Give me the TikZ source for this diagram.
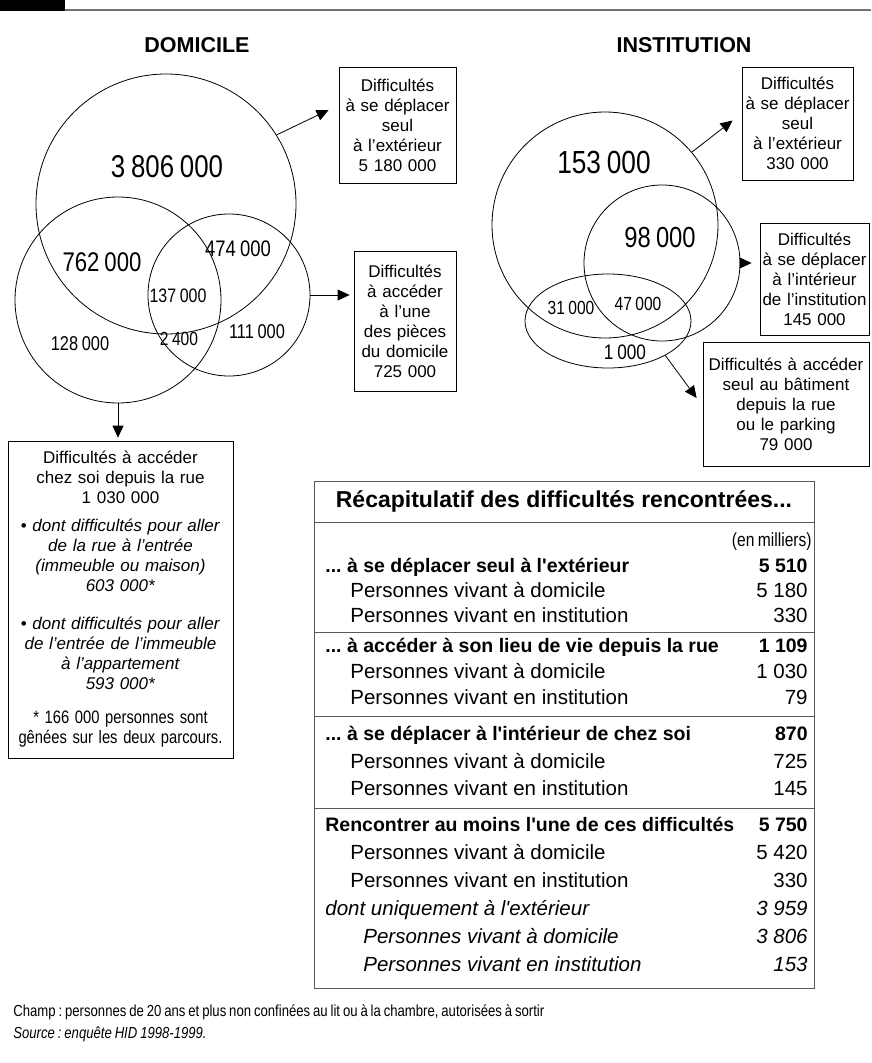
\documentclass[tikz,border=0pt]{standalone}
\usepackage{fontspec}
\setmainfont{Liberation Sans}
\newfontfamily\narrowfont{Liberation Sans}[FakeStretch=0.82, WordSpace=0.8]
\usetikzlibrary{
	arrows.meta,									% pointes de fleches
	calc,											% calcul de coordonnees
	positioning,									% placement relatif
	shapes.geometric,								% ellipse
}
\newcommand{\sq}{\textquotesingle}
\frenchspacing

\tikzset{
	venn/.style={draw, circle, inner sep=0pt},
	fleche/.style={-{Triangle[length=12pt,width=11pt]}, line width=0.8pt},
	boite/.style={draw, line width=0.8pt, align=center, inner sep=2pt,
		font=\fontsize{17}{20}\selectfont},
	chiffre/.style={inner sep=0pt, font=\narrowfont\fontsize{#1}{#1}\selectfont},
	ligne/.style={anchor=west, inner sep=0pt, text height=15pt, text depth=4pt,
		font=\fontsize{20.5}{24}\selectfont},
	valeur/.style={anchor=east, inner sep=0pt, text height=15pt, text depth=4pt,
		font=\fontsize{20.5}{24}\selectfont},
	filet/.style={draw=black!65, line width=0.9pt},
}
\newcommand{\gras}{\fontsize{19.5}{24}\selectfont\bfseries}

\begin{document}
\begin{tikzpicture}[x=1pt, y=-1pt, line width=0.8pt]
		\useasboundingbox (0,0) rectangle (871,1063);
		% bandeau
		\fill (0,0) rectangle (65,11);
		\draw [black!55, line width=1.6pt] (65,10) -- (871,10);

		% titres
		\node [font=\bfseries\fontsize{21.5}{24}\selectfont] (titreDom) at (197,45) {DOMICILE};
		\node [font=\bfseries\fontsize{21.5}{24}\selectfont] (titreInst) at (684,45) {INSTITUTION};

		% domicile
		\node [venn, minimum size=260pt] (domExt) at (166,204) {};
		\node [venn, minimum size=206pt] (domRue) at (118,300) {};
		\node [venn, minimum size=162pt] (domPiece) at (229,295) {};
		\node [chiffre=31.5] (nDomExt) at (167,167) {3 806 000};
		\node [chiffre=27] (nDomExtRue) at (102,262) {762 000};
		\node [chiffre=22.5] (nDomExtPiece) at (238,249) {474 000};
		\node [chiffre=19.5] (nDomTrois) at (178,296) {137 000};
		\node [chiffre=20] (nDomPiece) at (257,332) {111 000};
		\node [chiffre=20] (nDomRue) at (80,344) {128 000};
		\node [chiffre=19] (nDomRuePiece) at (179,339) {2 400};

		\node [boite, text width=113pt, minimum height=116pt] (boxDomExt) at (397.5,125)
			{Difficultés\\à se déplacer\\seul\\à l’extérieur\\5 180 000};
		\node [boite, text width=98pt, minimum height=140pt] (boxDomPiece) at (405,321)
			{Difficultés\\à accéder\\à l’une\\des pièces\\du domicile\\725 000};
		\node [boite, text width=221pt, minimum height=317pt] (boxDomRue) at (120.5,599.5)
			{Difficultés à accéder\\chez soi depuis la rue\\1 030 000\\[8pt]
			• \textit{dont difficultés pour aller}\\\textit{de la rue à l’entrée}\\
			\textit{(immeuble ou maison)}\\\textit{603 000*}\\[18pt]
			• \textit{dont difficultés pour aller}\\\textit{de l’entrée de l’immeuble}\\
			\textit{à l’appartement}\\\textit{593 000*}\\[14pt]
			{\narrowfont\fontsize{18}{20}\selectfont * 166 000 personnes sont}\\
			{\narrowfont\fontsize{18}{20}\selectfont gênées sur les deux parcours.}};

		\draw [fleche] (domExt.32) -- ([xshift=-10pt, yshift=15pt]boxDomExt.west);
		\draw [fleche, shorten >=4pt] (domPiece.east) -- (domPiece.east -| boxDomPiece.west);
		\draw [fleche, shorten >=3pt] (domRue.south) -- (domRue.south |- boxDomRue.north);

		% institution
		\node [venn, minimum size=226pt] (instExt) at (605,225) {};
		\node [venn, minimum size=156pt] (instInt) at (662,263) {};
		\node [draw, ellipse, minimum width=166pt, minimum height=94pt, inner sep=0pt] (instRue) at (608,321) {};
		\node [chiffre=32] (nInstExt) at (604,162) {153 000};
		\node [chiffre=29] (nInstInt) at (660,238) {98 000};
		\node [chiffre=19] (nInstExtRue) at (571,308) {31 000};
		\node [chiffre=19] (nInstTrois) at (638,304) {47 000};
		\node [chiffre=21] (nInstRue) at (625,352) {1 000};

		\node [boite, text width=107pt, minimum height=113pt] (boxInstExt) at (797.5,123.5)
			{Difficultés\\à se déplacer\\seul\\à l’extérieur\\330 000};
		\node [boite, text width=105pt, minimum height=112pt] (boxInstInt) at (814.5,279)
			{Difficultés\\à se déplacer\\à l’intérieur\\de l’institution\\145 000};
		\node [boite, text width=162pt, minimum height=124pt] (boxInstRue) at (786,404)
			{Difficultés à accéder\\seul au bâtiment\\depuis la rue\\ou le parking\\79 000};

		\draw [fleche] (instExt.40) -- ([xshift=-9pt, yshift=3pt]boxInstExt.west);
		\draw [fleche, shorten >=8pt] (instInt.east) -- (instInt.east -| boxInstInt.west);
		\draw [fleche] (instRue.-31) -- ([xshift=-6pt, yshift=6pt]boxInstRue.west);

		% recapitulatif
		\draw [filet] (314,481) rectangle (814,988);
		\node [font=\bfseries\fontsize{23}{26}\selectfont] (recapTitre) at (564,501)
			{Récapitulatif des difficultés rencontrées...};
		\draw [filet] (314,522) -- (814,522);
		\node [anchor=east, inner sep=0pt, font=\narrowfont\fontsize{19}{22}\selectfont] (unite) at (812,542) {(en milliers)};
		\foreach \y/\x/\f/\t/\v [count=\i] in {
			567/325/\gras/{... à se déplacer seul à l\sq extérieur}/{5 510},
			592/350/\mdseries/{Personnes vivant à domicile}/{5 180},
			617/350/\mdseries/{Personnes vivant en institution}/{330},
			647/325/\gras/{... à accéder à son lieu de vie depuis la rue}/{1 109},
			673/350/\mdseries/{Personnes vivant à domicile}/{1 030},
			699/350/\mdseries/{Personnes vivant en institution}/{79},
			735/325/\gras/{... à se déplacer à l\sq intérieur de chez soi}/{870},
			763/350/\mdseries/{Personnes vivant à domicile}/{725},
			790/350/\mdseries/{Personnes vivant en institution}/{145},
			826/325/\gras/{Rencontrer au moins l\sq une de ces difficultés}/{5 750},
			854/350/\mdseries/{Personnes vivant à domicile}/{5 420},
			882/350/\mdseries/{Personnes vivant en institution}/{330},
			910/325/\itshape/{dont uniquement à l\sq extérieur}/{3 959},
			938/363/\itshape/{Personnes vivant à domicile}/{3 806},
			966/363/\itshape/{Personnes vivant en institution}/{153}}
		{
			\node [ligne] (ligne\i) at (\x,\y) {\f\t};
			\node [valeur] (valeur\i) at (808,\y) {\f\v};
		}
		\foreach \y in {632,716,808}
			\draw [filet] (314,\y) -- (814,\y);

		% notes
		\node [anchor=west, inner sep=0pt, font=\narrowfont\fontsize{16}{18}\selectfont] (champ) at (13,1012)
			{Champ : personnes de 20 ans et plus non confinées au lit ou à la chambre, autorisées à sortir};
		\node [below=6pt of champ.south west, anchor=north west, inner sep=0pt,
			font=\narrowfont\itshape\fontsize{16}{18}\selectfont] (source)
			{Source : enquête HID 1998-1999.};
	\end{tikzpicture}
\end{document}
